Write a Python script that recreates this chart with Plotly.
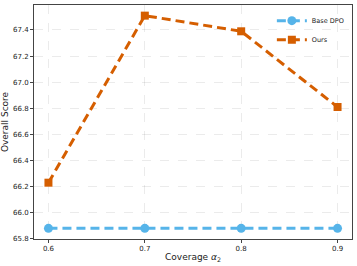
import plotly.graph_objects as go

coverage = [0.6, 0.7, 0.8, 0.9]
base_dpo = [65.88, 65.88, 65.88, 65.88]
ours = [66.23, 67.51, 67.39, 66.81]
y_ticks = [65.8, 66.0, 66.2, 66.4, 66.6, 66.8, 67.0, 67.2, 67.4]
x_ticks = [0.6, 0.7, 0.8, 0.9]

fig = go.Figure()
fig.add_trace(go.Scatter(x=coverage, y=base_dpo, name="Base DPO", mode="lines+markers",
                         line=dict(color="#56B4E9", width=3, dash="9px,5px"),
                         marker=dict(symbol="circle", size=9, color="#56B4E9")))
fig.add_trace(go.Scatter(x=coverage, y=ours, name="Ours", mode="lines+markers",
                         line=dict(color="#D55E00", width=3, dash="9px,5px"),
                         marker=dict(symbol="square", size=8, color="#D55E00")))

axis_common = dict(showline=True, linecolor="#444", linewidth=1, mirror=True,
                   showgrid=True, gridcolor="rgba(0,0,0,0.08)", griddash="dash", gridwidth=0.6,
                   ticks="outside", ticklen=3, tickcolor="#444", zeroline=False, automargin=False,
                   tickfont=dict(size=7, color="#222", family="DejaVu Sans"))

fig.update_xaxes(range=[0.585, 0.915], tickvals=x_ticks, ticktext=[f"{v:.1f}" for v in x_ticks],
                 title=dict(text="Coverage <i>α</i><sub>2</sub>", font=dict(size=9, family="DejaVu Sans", color="#222"), standoff=1),
                 **axis_common)
fig.update_yaxes(range=[65.7985, 67.5915], tickvals=y_ticks, ticktext=[f"{v:.1f}" for v in y_ticks],
                 title=dict(text="Overall Score", font=dict(size=9, family="DejaVu Sans", color="#222"), standoff=4),
                 **axis_common)

fig.update_layout(width=357, height=266, margin=dict(l=34, r=5, t=5, b=27, autoexpand=False),
                  plot_bgcolor="white", paper_bgcolor="white",
                  legend=dict(x=0.748, y=0.995, xanchor="left", yanchor="top",
                              font=dict(size=6.5, family="DejaVu Sans", color="#222"),
                              bgcolor="rgba(255,255,255,0)", borderwidth=0,
                              itemwidth=30, tracegroupgap=0))
fig.write_html("out.html", config={"displayModeBar": False},
               post_script="document.body.style.margin='0';")
